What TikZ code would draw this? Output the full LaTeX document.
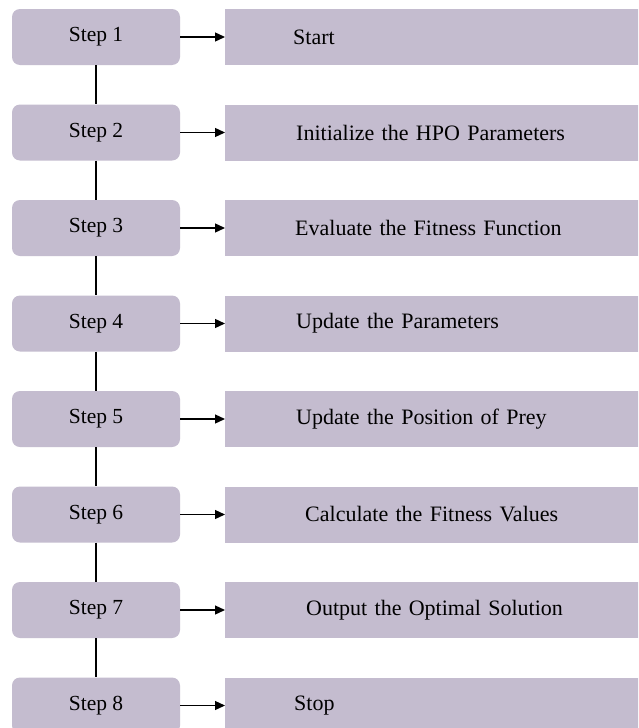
\documentclass[tikz,border=0pt]{standalone}
\usepackage{fontspec}
\setmainfont{Liberation Serif}
\usetikzlibrary{arrows.meta}
\definecolor{boxlilac}{RGB}{196,188,207}
\tikzset{
    stepbox/.style={fill=boxlilac, rounded corners=8pt, minimum width=168pt, minimum height=56pt, inner sep=0pt, font=\fontsize{21.5}{24}\selectfont},
    actionbox/.style={fill=boxlilac, anchor=west, minimum height=56pt, text width=345pt, inner xsep=70pt, inner ysep=0pt, align=left, font=\fontsize{22}{24}\selectfont},
    link/.style={line width=1.3pt},
    flow/.style={line width=1.3pt, -{Triangle[length=10pt,width=9pt]}}
}
\begin{document}
\begin{tikzpicture}[x=1pt, y=-1pt]
    \fill[white] (0,0) rectangle (638,728);
    \clip (0,0) rectangle (638,728);
    % Etapes
    \node[stepbox] (s1) at (96,37) {Step 1};
    \node[stepbox] (s2) at (96,132.5) {Step 2};
    \node[stepbox] (s3) at (96,228) {Step 3};
    \node[stepbox] (s4) at (96,323.5) {Step 4};
    \node[stepbox] (s5) at (96,419) {Step 5};
    \node[stepbox] (s6) at (96,514.5) {Step 6};
    \node[stepbox] (s7) at (96,610) {Step 7};
    \node[stepbox] (s8) at (96,705.5) {Step 8};

    % Actions
    \node[actionbox, inner xsep=68pt] (a1) at (225,37) {Start};
    \node[actionbox, inner xsep=71pt] (a2) at (225,132.5) {Initialize the HPO Parameters};
    \node[actionbox] (a3) at (225,228) {Evaluate the Fitness Function};
    \node[actionbox, inner xsep=71pt] (a4) at (225,323.5) {Update the Parameters};
    \node[actionbox, inner xsep=71pt] (a5) at (225,419) {Update the Position of Prey};
    \node[actionbox, inner xsep=80pt] (a6) at (225,514.5) {Calculate the Fitness Values};
    \node[actionbox, inner xsep=81pt] (a7) at (225,610) {Output the Optimal Solution};
    \node[actionbox, inner xsep=69pt] (a8) at (225,705.5) {Stop};

    % Liens verticaux
    \draw[link] (s1) -- (s2);
    \draw[link] (s2) -- (s3);
    \draw[link] (s3) -- (s4);
    \draw[link] (s4) -- (s5);
    \draw[link] (s5) -- (s6);
    \draw[link] (s6) -- (s7);
    \draw[link] (s7) -- (s8);

    % Fleches
    \draw[flow] (s1) -- (a1);
    \draw[flow] (s2) -- (a2);
    \draw[flow] (s3) -- (a3);
    \draw[flow] (s4) -- (a4);
    \draw[flow] (s5) -- (a5);
    \draw[flow] (s6) -- (a6);
    \draw[flow] (s7) -- (a7);
    \draw[flow] (s8) -- (a8);
\end{tikzpicture}
\end{document}
